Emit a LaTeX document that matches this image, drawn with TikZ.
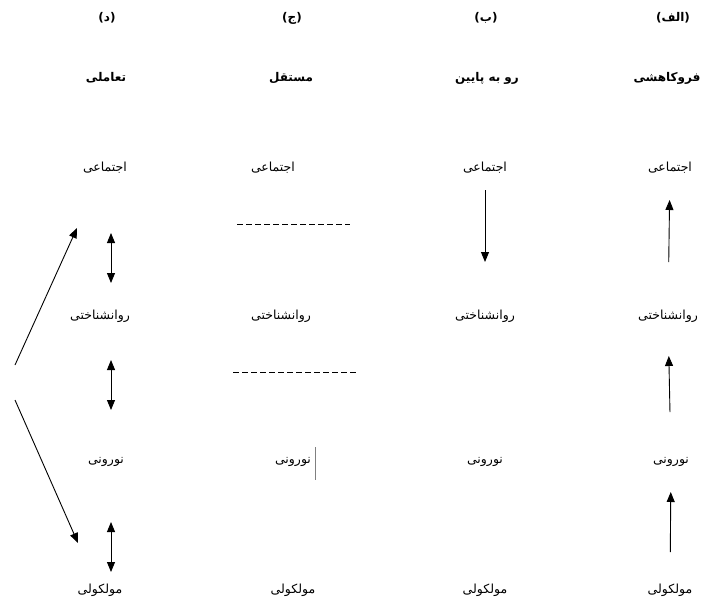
\documentclass[tikz,border=0pt]{standalone}
\usepackage{fontspec}
\newfontfamily\persianfont[Script=Arabic]{DejaVu Sans}
\TeXXeTstate=1
\usetikzlibrary{arrows.meta}
\tikzset{
  level/.style={font=\persianfont\fontsize{12.5}{14}\selectfont, inner sep=1pt},
  head/.style={font=\persianfont\bfseries\fontsize{12}{14}\selectfont, inner sep=1pt},
  arr/.style={-{Triangle[length=10pt,width=8pt]}, line width=0.9pt},
  dbl/.style={{Triangle[length=10pt,width=8pt]}-{Triangle[length=10pt,width=8pt]}, line width=0.9pt},
  sep/.style={dash pattern=on 6pt off 3pt, line width=0.7pt}
}
\begin{document}
\begin{tikzpicture}[x=1pt,y=-1pt]
\useasboundingbox (0,0) rectangle (704,602);

         \node[head] (LD) at (107,18) {\beginR(د)\endR};
         \node[head] (LC) at (292,18) {\beginR(ج)\endR};
         \node[head] (LB) at (486,18) {\beginR(ب)\endR};
         \node[head] (LA) at (673,18) {\beginR(الف)\endR};

         \node[head] (TD) at (106,78) {\beginR تعاملی\endR};
         \node[head] (TC) at (291,78) {\beginR مستقل\endR};
         \node[head] (TB) at (487,78) {\beginR رو به پایین\endR};
         \node[head] (TA) at (667,78) {\beginR فروکاهشی\endR};

         \node[level] (D1) at (105,168) {اجتماعی};
         \node[level] (D2) at (100,316) {روانشناختی};
         \node[level] (D3) at (106,462) {نورونی};
         \node[level] (D4) at (100,590) {مولکولی};

         \node[level] (C1) at (273,168) {اجتماعی};
         \node[level] (C2) at (281,316) {روانشناختی};
         \node[level] (C3) at (293,462) {نورونی};
         \node[level] (C4) at (293,590) {مولکولی};

         \node[level] (B1) at (485,168) {اجتماعی};
         \node[level] (B2) at (485,316) {روانشناختی};
         \node[level] (B3) at (485,462) {نورونی};
         \node[level] (B4) at (485,590) {مولکولی};

         \node[level] (A1) at (670,168) {اجتماعی};
         \node[level] (A2) at (668,316) {روانشناختی};
         \node[level] (A3) at (671,462) {نورونی};
         \node[level] (A4) at (670,590) {مولکولی};

         \coordinate (d12a) at (111,233);
         \coordinate (d12b) at (111,283);
         \coordinate (d23a) at (111,360);
         \coordinate (d23b) at (111,410);
         \coordinate (d34a) at (111,522);
         \coordinate (d34b) at (111,572);
         \coordinate (up) at (15,365);
         \coordinate (down) at (15,400);
         \coordinate (upend) at (77,228);
         \coordinate (downend) at (78,543);

         \draw[dbl] (d12a) -- (d12b);
         \draw[dbl] (d23a) -- (d23b);
         \draw[dbl] (d34a) -- (d34b);
         \draw[arr] (up) -- (upend);
         \draw[arr] (down) -- (downend);

         \coordinate (c12a) at (237,224);
         \coordinate (c12b) at (350,224);
         \coordinate (c23a) at (233,372);
         \coordinate (c23b) at (356,372);
         \coordinate (cura) at (315,447);
         \coordinate (curb) at (315,480);

         \draw[sep] (c12a) -- (c12b);
         \draw[sep] (c23a) -- (c23b);
         \draw[gray, line width=0.5pt] (cura) -- (curb);

         \draw[arr, shorten <=22pt, shorten >=54pt] (B1.center) -- (B2.center);

         \draw[arr, shorten <=54pt, shorten >=32pt] (A2.center) -- (A1.center);
         \draw[arr, shorten <=50pt, shorten >=40pt] (A3.center) -- (A2.center);
         \draw[arr, shorten <=38pt, shorten >=30pt] (A4.center) -- (A3.center);
\end{tikzpicture}
\end{document}
